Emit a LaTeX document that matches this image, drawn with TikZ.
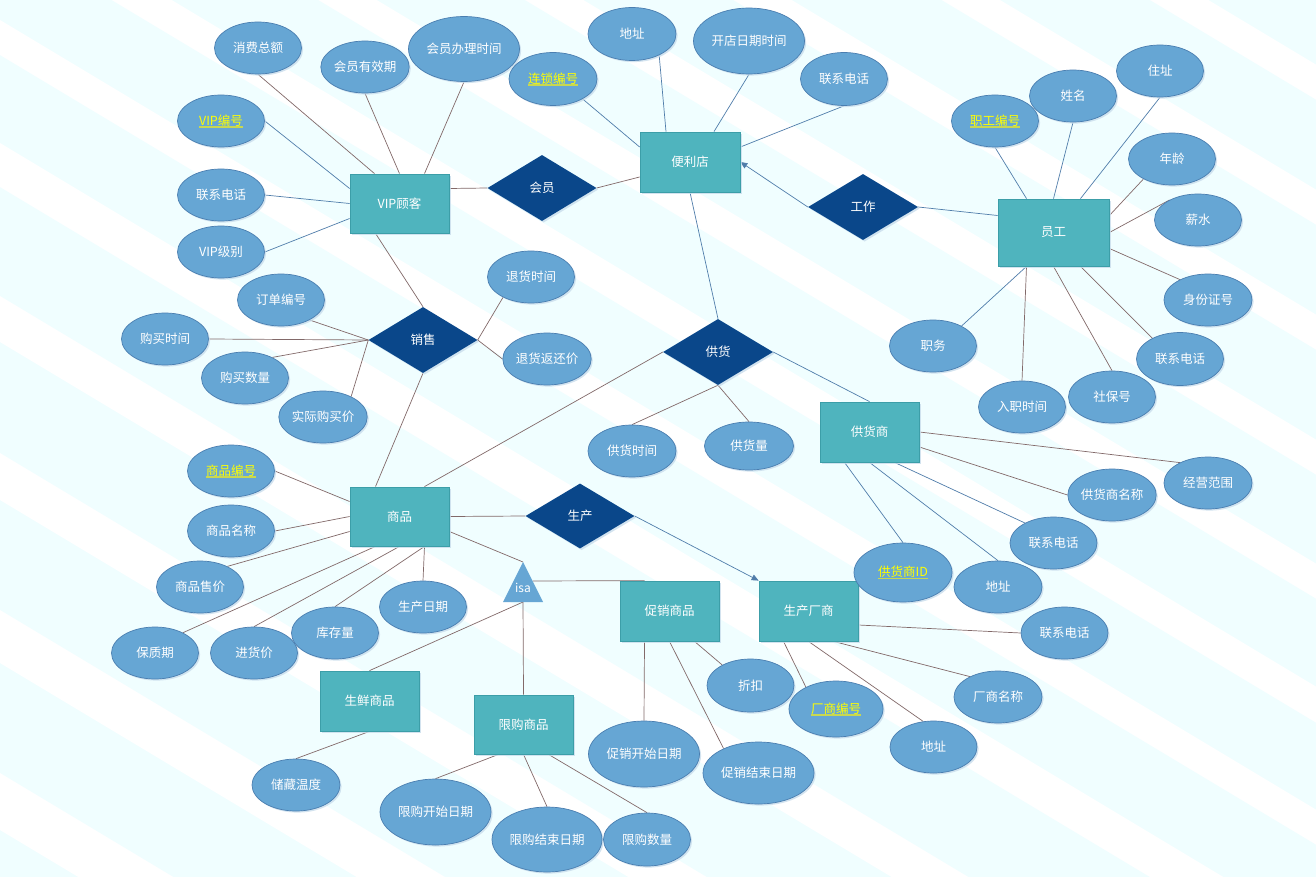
\documentclass[tikz,border=0pt]{standalone}
\usepackage{fontspec}
\setmainfont{Noto Sans CJK SC}
\usetikzlibrary{shapes.geometric,arrows.meta,shadows}
\definecolor{bgc}{HTML}{F0FEFF}
\definecolor{attrfill}{HTML}{66A6D4}
\definecolor{attrborder}{HTML}{4A7EB0}
\definecolor{entfill}{HTML}{4FB4BE}
\definecolor{entborder}{HTML}{3C9EA8}
\definecolor{relfill}{HTML}{0A478A}
\definecolor{linebrown}{HTML}{826969}
\definecolor{lineblue}{HTML}{507DAA}
\definecolor{keyyellow}{HTML}{FFFF00}
\definecolor{pkline}{HTML}{C8D850}
\definecolor{shadowc}{HTML}{C9DDEC}
\pgfdeclarelayer{edges}
\pgfsetlayers{edges,main}
\newcommand\pkul[1]{\setbox0=\hbox{#1}\rlap{\color{pkline}\rule[-2.5pt]{\wd0}{1.2pt}}\box0}
\tikzset{
  myshadow/.style={drop shadow={shadow xshift=1.6pt,shadow yshift=-1.6pt,fill=shadowc,opacity=0.8}},
  attr/.style={ellipse,draw=attrborder,line width=0.7pt,fill=attrfill,text=white,
    minimum width=87pt,minimum height=52pt,inner sep=0pt,myshadow,
    font=\fontsize{12.5}{14}\selectfont},
  attrbig/.style={attr,minimum width=111pt,minimum height=66pt},
  pk/.style={text=keyyellow},
  entity/.style={rectangle,draw=entborder,line width=0.8pt,fill=entfill,text=white,
    minimum width=99pt,minimum height=59pt,inner sep=0pt,myshadow,
    font=\fontsize{12.5}{14}\selectfont},
  relship/.style={diamond,fill=relfill,text=white,minimum width=109pt,minimum height=66pt,
    inner sep=0pt,myshadow,font=\fontsize{12.5}{14}\selectfont},
  lnb/.style={draw=lineblue,line width=0.7pt},
  lnr/.style={draw=linebrown,line width=0.7pt},
  arr/.style={-{Triangle[length=7pt,width=6pt]}}
}
\begin{document}
\begin{tikzpicture}[x=1pt,y=-1pt]
\useasboundingbox (0,0) rectangle (1316,877);
% background
\begin{pgfonlayer}{edges}
\fill[bgc] (0,0) rectangle (1316,877);
\begin{scope}
\clip (0,0) rectangle (1316,877);
\foreach \c/\w in {-850/35,-725/35,-600/35,-475/35,-350/35,-226/35,-103/36,20/35,143/44,296/46,453/47,610/53,773/57}{
  \fill[white] (0,\c) -- (1316,\c+789.6) -- (1316,\c+789.6+\w) -- (0,\c+\w) -- cycle;
}
\end{scope}
\end{pgfonlayer}

% entities
\node[entity] (vip) at (399.5,203.5) {VIP顾客};
\node[entity,minimum width=100pt,minimum height=60pt] (store) at (690,162) {便利店};
\node[entity,minimum width=111pt,minimum height=67pt] (emp) at (1053.5,232.5) {员工};
\node[entity] (goods) at (399.5,516.5) {商品};
\node[entity,minimum height=60pt] (supplier) at (869.5,432) {供货商};
\node[entity,minimum height=60pt] (promo) at (669.5,611) {促销商品};
\node[entity,minimum height=60pt] (mfr) at (808.5,611) {生产厂商};
\node[entity,minimum height=60pt] (fresh) at (369.5,701) {生鲜商品};
\node[entity] (limit) at (523.5,724.5) {限购商品};

% relationships
\node[relship] (member) at (542,188) {会员};
\node[relship,minimum width=110pt] (work) at (863,207) {工作};
\node[relship] (sales) at (423,340) {销售};
\node[relship,minimum width=110pt] (supply) at (718,352) {供货};
\node[relship,minimum height=65pt] (produce) at (580,516) {生产};

% isa triangle
\coordinate (isatop) at (523,562);
\coordinate (isabase) at (523,602);
\coordinate (isaright) at (532.5,581);
\fill[attrfill] (523,562) -- (543,602) -- (503,602) -- cycle;
\node[text=white,font=\fontsize{12}{14}\selectfont,inner sep=0pt] (isa) at (523,588) {isa};

% attributes
\node[attr] (a_xf) at (258,48) {消费总额};
\node[attr] (a_yxq) at (365,67) {会员有效期};
\node[attrbig,minimum height=65pt] (a_blsj) at (464,49) {会员办理时间};
\node[attr,pk] (a_vipid) at (221,121) {\pkul{VIP编号}};
\node[attr] (a_viptel) at (221,195) {联系电话};
\node[attr] (a_viplv) at (221,252) {VIP级别};
\node[attr,minimum width=88pt,minimum height=53pt,pk] (a_lsbh) at (553,79) {\pkul{连锁编号}};
\node[attr,minimum width=88pt,minimum height=53pt] (a_sdz) at (632,34) {地址};
\node[attrbig] (a_kd) at (749,41) {开店日期时间};
\node[attr,minimum height=53pt] (a_stel) at (844,79) {联系电话};
\node[attr,pk] (a_zgbh) at (995,121) {\pkul{职工编号}};
\node[attr] (a_xm) at (1073,96) {姓名};
\node[attr] (a_zz) at (1160,71) {住址};
\node[attr] (a_nl) at (1172,159) {年龄};
\node[attr] (a_xs) at (1198,220) {薪水};
\node[attr,minimum width=88pt] (a_sfz) at (1208,300) {身份证号};
\node[attr,minimum height=53pt] (a_etel) at (1180,359) {联系电话};
\node[attr] (a_sbh) at (1112,397) {社保号};
\node[attr] (a_rzsj) at (1022,407) {入职时间};
\node[attr] (a_zw) at (933,346) {职务};
\node[attr] (a_ddbh) at (281,300) {订单编号};
\node[attr] (a_gmsj) at (165,339) {购买时间};
\node[attr] (a_gmsl) at (245,378) {购买数量};
\node[attr,minimum width=88pt] (a_sjgmj) at (323,417) {实际购买价};
\node[attr] (a_thsj) at (531,277) {退货时间};
\node[attr,minimum width=88pt] (a_thfhj) at (547,359) {退货返还价};
\node[attr,pk] (a_spbh) at (231,471) {\pkul{商品编号}};
\node[attr] (a_spmc) at (231,531) {商品名称};
\node[attr] (a_spsj) at (200,587) {商品售价};
\node[attr] (a_bzq) at (155,653) {保质期};
\node[attr] (a_jhj) at (254,653) {进货价};
\node[attr] (a_kcl) at (335,633) {库存量};
\node[attr] (a_scrq) at (423,607) {生产日期};
\node[attr,minimum width=88pt] (a_ghsj) at (632,451) {供货时间};
\node[attr,minimum width=89pt,minimum height=48pt] (a_ghl) at (749,446) {供货量};
\node[attr,minimum width=88pt] (a_jyfw) at (1208,483) {经营范围};
\node[attr,minimum width=88pt] (a_ghsmc) at (1112,495) {供货商名称};
\node[attr] (a_gtel) at (1053.5,543) {联系电话};
\node[attr,minimum width=98pt,minimum height=59pt,pk] (a_ghsid) at (903,572.5) {\pkul{供货商ID}};
\node[attr,minimum width=88pt] (a_gdz) at (998,587) {地址};
\node[attr] (a_mtel) at (1064.5,633) {联系电话};
\node[attr,minimum width=88pt] (a_csmc) at (998,697) {厂商名称};
\node[attr] (a_mdz) at (933.5,747) {地址};
\node[attr,minimum width=94pt,minimum height=56pt,pk] (a_csbh) at (836,709) {\pkul{厂商编号}};
\node[attr,minimum height=53pt] (a_zk) at (750.5,685.5) {折扣};
\node[attrbig] (a_cxks) at (644,754) {促销开始日期};
\node[attrbig,minimum height=62pt] (a_cxjs) at (758.5,773) {促销结束日期};
\node[attr,minimum width=88pt] (a_zcwd) at (296,785) {储藏温度};
\node[attrbig] (a_xgks) at (435.5,812) {限购开始日期};
\node[attrbig,minimum width=110pt,minimum height=65pt] (a_xgjs) at (547,839.5) {限购结束日期};
\node[attr,minimum height=53pt] (a_xgsl) at (647,839.5) {限购数量};

% connectors
\begin{pgfonlayer}{edges}
% VIP customer
\draw[lnr] (a_xf.south) -- ([xshift=-25pt]vip.north);
\draw[lnr] (a_yxq.south) -- (vip.north);
\draw[lnr] (a_blsj.south) -- ([xshift=25pt]vip.north);
\draw[lnb] (a_vipid.east) -- ([yshift=15pt]vip.west);
\draw[lnb] (a_viptel.east) -- (vip.west);
\draw[lnb] (a_viplv.east) -- ([yshift=-15pt]vip.west);
\draw[lnr] ([xshift=-24pt]vip.south) -- (sales.north);
\draw[lnr] ([yshift=15pt]vip.east) -- (member.west);
\draw[lnr] (member.east) -- ([yshift=-15pt]store.west);
% store
\draw[lnb] (a_lsbh.-34) -- ([yshift=15pt]store.west);
\draw[lnb] (a_sdz.-38) -- ([xshift=-24pt]store.north);
\draw[lnb] (a_kd.south) -- ([xshift=24pt]store.north);
\draw[lnb] (a_stel.south) -- ([yshift=15pt]store.east);
\draw[lnb,arr] (work.west) -- (store.east);
\draw[lnb] (work.east) -- ([yshift=17pt]emp.west);
\draw[lnb] (store.south) -- (supply.north);
% employee
\draw[lnb] (a_zgbh.south) -- ([xshift=-27pt]emp.north);
\draw[lnb] (a_xm.south) -- (emp.north);
\draw[lnb] (a_zz.south) -- ([xshift=27pt]emp.north);
\draw[lnr] (a_nl.-145) -- ([yshift=17pt]emp.east);
\draw[lnr] (a_xs.145) -- (emp.east);
\draw[lnr] (a_sfz.144) -- ([yshift=-16pt]emp.east);
\draw[lnr] (a_etel.143) -- ([xshift=27pt]emp.south);
\draw[lnr] (a_sbh.north) -- (emp.south);
\draw[lnr] (a_rzsj.north) -- ([xshift=-27pt]emp.south);
\draw[lnb] (a_zw.35) -- ([xshift=-27pt]emp.south);
% sales
\draw[lnr] (a_ddbh.-35) -- (sales.west);
\draw[lnr] (a_gmsj.east) -- (sales.west);
\draw[lnr] (a_gmsl.37) -- (sales.west);
\draw[lnr] (a_sjgmj.36) -- (sales.west);
\draw[lnr] (a_thsj.-144) -- (sales.east);
\draw[lnr] (a_thfhj.west) -- (sales.east);
\draw[lnr] (sales.south) -- ([xshift=-24pt]goods.north);
% goods
\draw[lnr] (a_spbh.east) -- ([yshift=15pt]goods.west);
\draw[lnr] (a_spmc.east) -- (goods.west);
\draw[lnr] (a_spsj.37) -- ([yshift=-15pt]goods.west);
\draw[lnr] (a_bzq.36) -- ([xshift=-24pt]goods.south);
\draw[lnr] (a_jhj.north) -- (goods.south);
\draw[lnr] (a_kcl.north) -- ([xshift=25pt]goods.south);
\draw[lnr] (a_scrq.north) -- ([xshift=25pt]goods.south);
\draw[lnr] (goods.east) -- (produce.west);
\draw[lnr] ([yshift=-15pt]goods.east) -- (isatop);
\draw[lnr] ([xshift=25pt]goods.north) -- (supply.west);
% supply
\draw[lnb] (supply.east) -- (supplier.north);
\draw[lnr] (supply.south) -- (a_ghsj.north);
\draw[lnr] (supply.south) -- (a_ghl.north);
% produce
\draw[lnb,arr] (produce.east) -- (mfr.north west);
% isa
\draw[lnr] (isaright) -- ([xshift=-25pt]promo.north);
\draw[lnr] (isabase) -- (fresh.north);
\draw[lnr] (isabase) -- (limit.north);
% promo
\draw[lnr] ([xshift=-25pt]promo.south) -- (a_cxks.north);
\draw[lnr] (promo.south) -- (a_cxjs.145);
\draw[lnr] ([xshift=25pt]promo.south) -- (a_zk.144);
% manufacturer
\draw[lnr] ([xshift=-25pt]mfr.south) -- (a_csbh.144);
\draw[lnr] (mfr.south) -- (a_mdz.112);
\draw[lnr] ([xshift=25pt]mfr.south) -- (a_csmc.144);
\draw[lnr] ([yshift=-14pt]mfr.east) -- (a_mtel.west);
% supplier
\draw[lnr] (supplier.east) -- (a_jyfw.144);
\draw[lnr] ([yshift=-15pt]supplier.east) -- (a_ghsmc.west);
\draw[lnb] ([xshift=25pt]supplier.south) -- (a_gtel.145);
\draw[lnb] (supplier.south) -- (a_gdz.north);
\draw[lnb] ([xshift=-25pt]supplier.south) -- (a_ghsid.north);
% fresh / limit
\draw[lnr] (fresh.south) -- (a_zcwd.north);
\draw[lnr] ([xshift=-25pt]limit.south) -- (a_xgks.north);
\draw[lnr] (limit.south) -- (a_xgjs.north);
\draw[lnr] ([xshift=25pt]limit.south) -- (a_xgsl.north);
\end{pgfonlayer}
\end{tikzpicture}
\end{document}
